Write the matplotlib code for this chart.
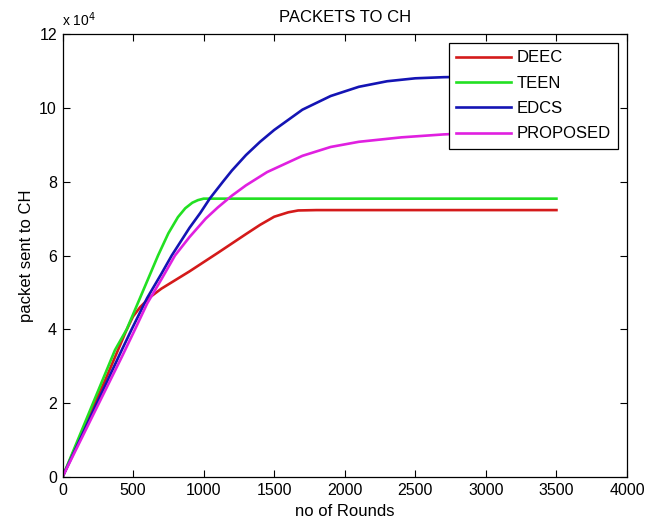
import matplotlib
matplotlib.use("Agg")
import matplotlib.pyplot as plt

plt.rcParams['font.family'] = ['Liberation Sans', 'DejaVu Sans']

# Data (packets sent to CH vs rounds)
deec_rounds = [0, 200, 300, 450, 500, 550, 620, 700, 900, 1100, 1300, 1400, 1500, 1600, 1670, 1800, 3500]
deec_vals = [0, 17500, 26000, 39500, 43500, 46000, 48700, 51000, 55700, 60700, 65800, 68300, 70500, 71700, 72200, 72300, 72300]

teen_rounds = [0, 200, 372, 455, 677, 750, 818, 870, 920, 960, 1000, 3500]
teen_vals = [0, 18500, 34400, 40000, 60000, 66000, 70400, 72800, 74300, 75000, 75400, 75400]

edcs_rounds = [0, 200, 420, 490, 600, 700, 774, 900, 976, 1045, 1137, 1200, 1300, 1400, 1500,
               1700, 1900, 2100, 2300, 2500, 2700, 3000, 3500]
edcs_vals = [0, 16400, 34400, 40000, 48500, 55000, 60000, 67500, 71500, 75500, 80000, 83000, 87200,
             90800, 94000, 99500, 103200, 105700, 107200, 108000, 108300, 108500, 108500]

prop_rounds = [0, 200, 420, 514, 600, 700, 797, 900, 1015, 1100, 1200, 1300, 1450, 1700, 1900,
               2100, 2400, 2700, 3000, 3500]
prop_vals = [0, 15500, 32500, 40000, 47000, 53500, 60000, 65000, 70000, 73000, 76200, 79000, 82600,
             87000, 89400, 90800, 92000, 92800, 93300, 93800]

series_names = ['DEEC', 'TEEN', 'EDCS', 'PROPOSED']
series_colors = ['#d41a1a', '#22e022', '#1414b4', '#e020e0']

x_ticks = [0, 500, 1000, 1500, 2000, 2500, 3000, 3500, 4000]
y_ticks = [0, 20000, 40000, 60000, 80000, 100000, 120000]
y_tick_labels = ['0', '2', '4', '6', '8', '10', '12']

fig = plt.figure(figsize=(6.54, 5.26), dpi=100)
ax = fig.add_axes([62.5 / 654, 1 - 477 / 526, (627 - 62.5) / 654, (477 - 34) / 526])

data = [(deec_rounds, deec_vals), (teen_rounds, teen_vals), (edcs_rounds, edcs_vals), (prop_rounds, prop_vals)]
for (xr, yv), name, col in zip(data, series_names, series_colors):
    ax.plot(xr, yv, color=col, linewidth=1.9, label=name)

ax.set_xlim(0, 4000)
ax.set_ylim(0, 120000)
ax.set_xticks(x_ticks)
ax.set_xticklabels([str(t) for t in x_ticks])
ax.set_yticks(y_ticks)
ax.set_yticklabels(y_tick_labels)
ax.tick_params(direction='in', top=True, right=True, length=5, width=0.8, labelsize=11.5, pad=4)
for s in ax.spines.values():
    s.set_linewidth(0.9)

ax.set_title('PACKETS TO CH', fontsize=12, pad=9)
ax.set_xlabel('no of Rounds', fontsize=12, labelpad=5)
ax.set_ylabel('packet sent to CH', fontsize=12, labelpad=4)
ax.text(0.0, 1.012, r'x 10$^4$', transform=ax.transAxes, fontsize=10, ha='left', va='bottom')

leg = ax.legend(loc='upper right', fontsize=12, frameon=True, fancybox=False,
                edgecolor='black', framealpha=1, handlelength=3.3, handletextpad=0.3,
                labelspacing=0.62, borderpad=0.45, borderaxespad=0)
leg.get_frame().set_linewidth(0.9)
leg.set_bbox_to_anchor(((618 - 62.5) / (627 - 62.5), 1 - (43 - 34) / 443), transform=ax.transAxes)

fig.savefig('out.png', dpi=100)
